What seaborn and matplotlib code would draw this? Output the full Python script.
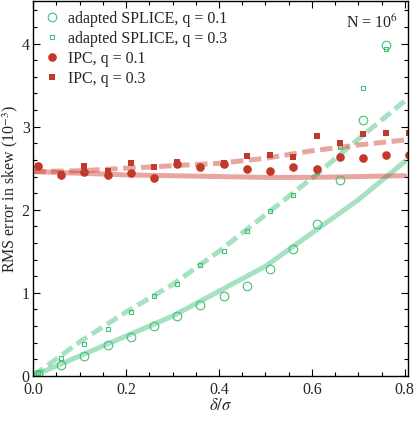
import numpy as np
import pandas as pd
import matplotlib
matplotlib.use("Agg")
import matplotlib.pyplot as plt
from matplotlib.ticker import MultipleLocator, FormatStrFormatter
import seaborn as sns

# ---------------- data ----------------
x_pts = [0.01, 0.06, 0.11, 0.16, 0.21, 0.26, 0.31, 0.36, 0.41, 0.46,
         0.51, 0.56, 0.61, 0.66, 0.71, 0.76, 0.81]

splice_q01 = [0.02, 0.13, 0.24, 0.37, 0.47, 0.60, 0.72, 0.86, 0.96, 1.08,
              1.29, 1.53, 1.83, 2.36, 3.08, 3.98]
splice_q03 = [0.04, 0.22, 0.39, 0.57, 0.77, 0.96, 1.11, 1.33, 1.51, 1.74,
              1.98, 2.18, 2.45, 2.76, 3.47, 3.94]
ipc_q01 = [2.53, 2.42, 2.46, 2.42, 2.44, 2.38, 2.55, 2.52, 2.55, 2.49,
           2.47, 2.51, 2.49, 2.63, 2.62, 2.66, 2.66]
ipc_q03 = [2.53, 2.43, 2.53, 2.47, 2.56, 2.51, 2.58, 2.52, 2.56, 2.65,
           2.66, 2.63, 2.89, 2.80, 2.91, 2.92, 2.92]

fit_x = [0.0, 0.1, 0.2, 0.3, 0.4, 0.5, 0.6, 0.7, 0.8]
fit_splice_q01 = [0.0, 0.24, 0.48, 0.72, 1.02, 1.32, 1.72, 2.12, 2.58]
fit_splice_q03 = [0.0, 0.41, 0.77, 1.10, 1.50, 1.94, 2.38, 2.85, 3.31]
fit_ipc_q01 = [2.46, 2.44, 2.42, 2.41, 2.40, 2.39, 2.39, 2.40, 2.41]
fit_ipc_q03 = [2.46, 2.47, 2.50, 2.53, 2.56, 2.62, 2.71, 2.78, 2.84]

labels = ["adapted SPLICE, q = 0.1", "adapted SPLICE, q = 0.3",
          "IPC, q = 0.1", "IPC, q = 0.3"]

# ---------------- style ----------------
sns.set_theme(style="ticks")
plt.rcParams["font.family"] = ["Liberation Serif", "DejaVu Serif"]
plt.rcParams["mathtext.fontset"] = "stix"

green_line = "#45c27f"
red_line = "#cc3a30"
green_mk = "#44c074"
red_mk = "#c0392b"

fig = plt.figure(figsize=(4.15, 4.21), dpi=100)
ax = fig.add_axes([0.080, 0.107, 0.902, 0.890])

lw = 3.6
dash = (2.5, 1.1)
sns.lineplot(x=fit_x, y=fit_splice_q01, ax=ax, color=green_line, alpha=0.48,
             linewidth=lw, legend=False)
sns.lineplot(x=fit_x, y=fit_splice_q03, ax=ax, color=green_line, alpha=0.48,
             linewidth=lw, legend=False).lines[-1].set_dashes(dash)
sns.lineplot(x=fit_x, y=fit_ipc_q01, ax=ax, color=red_line, alpha=0.45,
             linewidth=lw, legend=False)
sns.lineplot(x=fit_x, y=fit_ipc_q03, ax=ax, color=red_line, alpha=0.45,
             linewidth=lw, legend=False).lines[-1].set_dashes(dash)

n = len(splice_q01)
sns.lineplot(x=x_pts[:n], y=splice_q01, ax=ax, linestyle="", marker="o",
             markersize=6.2, markerfacecolor="none", markeredgecolor=green_mk,
             markeredgewidth=0.8, color=green_mk, label=labels[0])
sns.lineplot(x=x_pts[:n], y=splice_q03, ax=ax, linestyle="", marker="s",
             markersize=3.3, markerfacecolor="none", markeredgecolor=green_mk,
             markeredgewidth=0.8, color=green_mk, label=labels[1])
sns.lineplot(x=x_pts, y=ipc_q01, ax=ax, linestyle="", marker="o",
             markersize=6.2, markerfacecolor=red_mk, markeredgecolor=red_mk,
             markeredgewidth=0, color=red_mk, label=labels[2])
sns.lineplot(x=x_pts, y=ipc_q03, ax=ax, linestyle="", marker="s",
             markersize=4.2, markerfacecolor=red_mk, markeredgecolor=red_mk,
             markeredgewidth=0, color=red_mk, label=labels[3])

ax.set_xlim(0, 0.806)
ax.set_ylim(0, 4.51)
ax.xaxis.set_major_locator(MultipleLocator(0.2))
ax.xaxis.set_minor_locator(MultipleLocator(0.05))
ax.yaxis.set_major_locator(MultipleLocator(1))
ax.yaxis.set_minor_locator(MultipleLocator(0.2))
ax.xaxis.set_major_formatter(FormatStrFormatter("%.1f"))
ax.yaxis.set_major_formatter(FormatStrFormatter("%d"))
ax.tick_params(which="both", direction="in", top=True, right=True,
               color="black", width=0.8, labelsize=11.5)
ax.tick_params(axis="x", pad=4.5)
ax.tick_params(axis="y", pad=2.5)
ax.tick_params(which="major", length=5)
ax.tick_params(which="minor", length=2.8)
for s in ax.spines.values():
    s.set_visible(True)
    s.set_color("black")
    s.set_linewidth(1.0)

ax.set_xlabel(r"$\delta/\sigma$", fontsize=12, labelpad=0)
ax.set_ylabel(r"RMS error in skew (10$^{-3}$)", fontsize=11.5, labelpad=1)
ax.text(0.975, 0.965, r"N = 10$^{6}$", transform=ax.transAxes,
        ha="right", va="top", fontsize=11.5)

leg = ax.legend(loc="upper left", bbox_to_anchor=(0.0, 1.005), frameon=False,
                fontsize=11.5, handlelength=1.0, handletextpad=0.5,
                labelspacing=0.25, borderaxespad=0.3)

fig.savefig("out.png", dpi=100)
